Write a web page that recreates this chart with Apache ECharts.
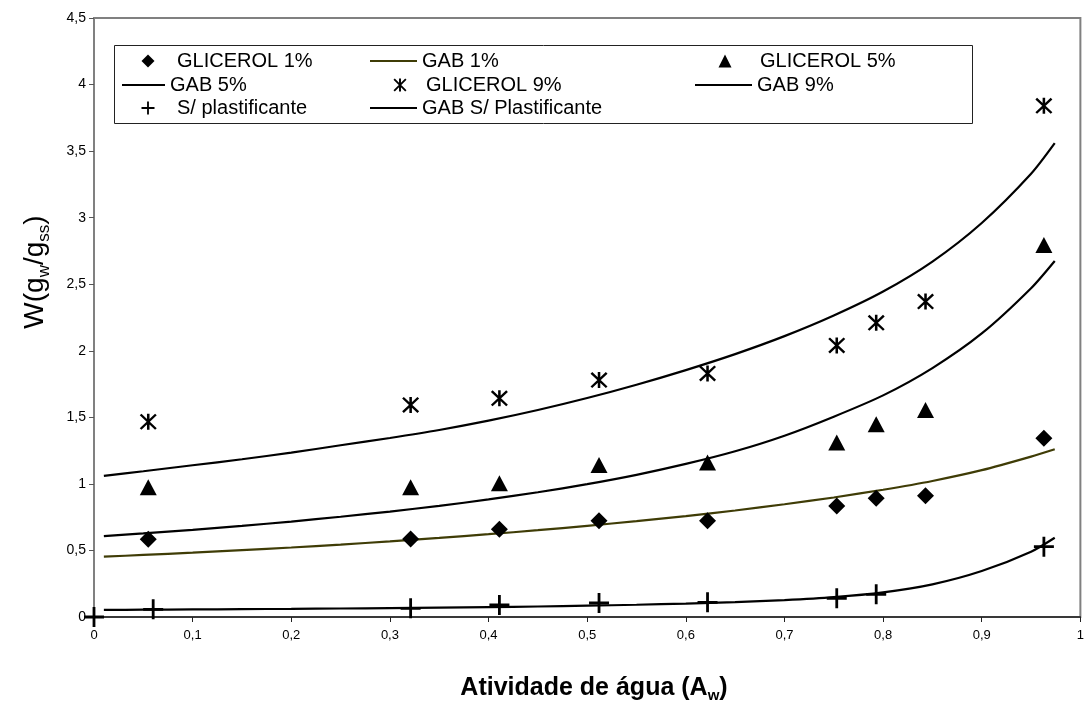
<!DOCTYPE html>
<html>
<head>
<meta charset="utf-8">
<title>Isotermas de sorção</title>
<script src="https://cdn.jsdelivr.net/npm/echarts@6/dist/echarts.min.js"></script>
<style>
  html, body { margin: 0; padding: 0; background: #fff; }
  #chart { width: 1087px; height: 704px; }
</style>
</head>
<body>
<div id="chart"></div>
<script>
// Water activity of the experimental points (glycerol films)
const awGlicerol = [0.055, 0.321, 0.411, 0.512, 0.622, 0.753, 0.793, 0.843, 0.963];
// Moisture content W (g water / g dry solids)
const glicerol1 = [0.584, 0.586, 0.659, 0.724, 0.724, 0.834, 0.892, 0.911, 1.343];
const glicerol5 = [0.974, 0.975, 1.004, 1.142, 1.160, 1.310, 1.448, 1.555, 2.795];
const glicerol9 = [1.467, 1.593, 1.643, 1.780, 1.830, 2.040, 2.210, 2.370, 3.840];

// Film without plasticizer
const awSemPlast = [0, 0.06, 0.321, 0.411, 0.512, 0.622, 0.753, 0.793, 0.963];
const semPlast   = [0, 0.058, 0.065, 0.090, 0.105, 0.110, 0.140, 0.170, 0.528];

// GAB model curves, sampled every 0.05 of water activity
const awGab = [0.01, 0.05, 0.10, 0.15, 0.20, 0.25, 0.30, 0.35, 0.40, 0.45, 0.50,
               0.55, 0.60, 0.65, 0.70, 0.75, 0.80, 0.85, 0.90, 0.95, 0.974];
const gab1 = [0.453, 0.466, 0.483, 0.502, 0.522, 0.544, 0.568, 0.594, 0.622, 0.652, 0.685,
              0.720, 0.758, 0.800, 0.847, 0.898, 0.956, 1.022, 1.103, 1.205, 1.260];
const gab5 = [0.608, 0.628, 0.655, 0.685, 0.717, 0.753, 0.792, 0.835, 0.883, 0.937, 0.998,
              1.068, 1.150, 1.245, 1.362, 1.505, 1.665, 1.870, 2.130, 2.470, 2.675];
const gab9 = [1.060, 1.095, 1.140, 1.185, 1.235, 1.290, 1.345, 1.405, 1.475, 1.555, 1.645,
              1.745, 1.855, 1.975, 2.110, 2.265, 2.445, 2.670, 2.960, 3.330, 3.560];
const gabSemPlast = [0.053, 0.055, 0.057, 0.059, 0.061, 0.064, 0.067, 0.070, 0.074, 0.079, 0.085,
                     0.092, 0.101, 0.112, 0.127, 0.149, 0.185, 0.245, 0.345, 0.490, 0.595];

// Axis tick labels (decimal comma)
const xTickLabels = ['0', '0,1', '0,2', '0,3', '0,4', '0,5', '0,6', '0,7', '0,8', '0,9', '1'];
const yTickLabels = ['0', '0,5', '1', '1,5', '2', '2,5', '3', '3,5', '4', '4,5'];

const FONT = "'Liberation Sans', Arial, sans-serif";
const OLIVE = '#3f3c06';

// Marker shapes
const DIAMOND  = 'path://M8,0L16,8L8,16L0,8Z';
const TRIANGLE = 'path://M8,0L16,16L0,16Z';
const ASTERISK = 'path://M6.8,0H9.2V16H6.8Z M0,1.6L1.6,0L16,14.4L14.4,16Z M14.4,0L16,1.6L1.6,16L0,14.4Z';
const PLUS     = 'path://M8.6,0H11.4V20H8.6Z M0,8.6H20V11.4H0Z';

function pairs(xs, ys) { return xs.map((x, i) => [x, ys[i]]); }

function curve(name, ys, color) {
  return {
    name, type: 'line', data: pairs(awGab, ys),
    smooth: 0.25,
    symbol: 'none', color: color,
    itemStyle: { color: color },
    lineStyle: { color: color, width: 2.2 },
    z: 2
  };
}
function points(name, xs, ys, symbol, size) {
  return {
    name, type: 'scatter', data: pairs(xs, ys),
    symbol: symbol, symbolSize: size,
    itemStyle: { color: '#000', opacity: 1 },
    z: 3
  };
}

// Legend cells: three columns by three rows, each entry placed on its own.
// Marker entries: "left" is the marker's left edge (13 px icon), text follows after the item box.
const legendCells = [
  { name: 'GLICEROL 1%',          icon: DIAMOND,  color: '#000', left: 141.5, row: 61,  w: 48, h: 13 },
  { name: 'GAB 1%',               icon: 'rect',   color: OLIVE,  left: 370,   row: 61,  w: 47, h: 2 },
  { name: 'GLICEROL 5%',          icon: TRIANGLE, color: '#000', left: 718.5, row: 61,  w: 60, h: 13 },
  { name: 'GAB 5%',               icon: 'rect',   color: '#000', left: 122,   row: 85,  w: 43, h: 2 },
  { name: 'GLICEROL 9%',          icon: ASTERISK, color: '#000', left: 393.5, row: 85,  w: 42, h: 13 },
  { name: 'GAB 9%',               icon: 'rect',   color: '#000', left: 695,   row: 85,  w: 57, h: 2 },
  { name: 'S/ plastificante',     icon: PLUS,     color: '#000', left: 141.5, row: 108, w: 48, h: 13 },
  { name: 'GAB S/ Plastificante', icon: 'rect',   color: '#000', left: 370,   row: 108, w: 47, h: 2 }
];

const legends = legendCells.map(c => ({
  data: [{ name: c.name, icon: c.icon, itemStyle: { color: c.color } }],
  left: c.left, top: c.row - 10,
  orient: 'horizontal', padding: 0,
  itemWidth: c.w, itemHeight: c.h,
  selectedMode: false,
  textStyle: { fontFamily: FONT, fontSize: 20, color: '#000' },
  z: 5
}));

const chart = echarts.init(document.getElementById('chart'), null, { renderer: 'canvas' });

chart.setOption({
  animation: false,
  backgroundColor: '#fff',
  grid: {
    left: 94, right: 3, top: 18, bottom: 87,
    show: true, borderColor: '#808080', borderWidth: 2, backgroundColor: 'transparent'
  },
  legend: legends,
  xAxis: {
    type: 'value', min: 0, max: 1, interval: 0.1,
    axisLine: { show: true, onZero: false, lineStyle: { color: '#222', width: 1.5 } },
    axisTick: { show: true, length: 5, lineStyle: { color: '#222', width: 1 } },
    axisLabel: {
      color: '#000', fontSize: 13, fontFamily: FONT, margin: 12,
      formatter: v => xTickLabels[Math.round(v * 10)]
    },
    splitLine: { show: false },
    z: 3
  },
  yAxis: {
    type: 'value', min: 0, max: 4.5, interval: 0.5,
    axisLine: { show: true, lineStyle: { color: '#808080', width: 2 } },
    axisTick: { show: true, length: 5, lineStyle: { color: '#555', width: 1 } },
    axisLabel: {
      color: '#000', fontSize: 14, fontFamily: FONT, margin: 8,
      formatter: v => yTickLabels[Math.round(v / 0.5)]
    },
    splitLine: { show: false }
  },
  graphic: [
    {
      type: 'rect', z: 1,
      shape: { x: 114.5, y: 45.5, width: 858, height: 78 },
      style: { fill: '#fff', stroke: '#222', lineWidth: 1 }
    },
    {
      type: 'text', z: 5, x: 35, y: 272, rotation: Math.PI / 2,
      style: {
        text: 'W(g{s|w}/g{s|ss})',
        fontFamily: FONT, fontSize: 28, lineHeight: 36, fill: '#000',
        align: 'center', verticalAlign: 'middle',
        rich: { s: { fontFamily: FONT, fontSize: 17, lineHeight: 17, verticalAlign: 'bottom', fill: '#000' } }
      }
    },
    {
      type: 'text', z: 5, x: 594, y: 688,
      style: {
        text: 'Atividade de água (A{s|w})',
        fontFamily: FONT, fontSize: 25, fontWeight: 'bold', lineHeight: 30, fill: '#000',
        align: 'center', verticalAlign: 'middle',
        rich: { s: { fontFamily: FONT, fontSize: 15, fontWeight: 'bold', lineHeight: 15, verticalAlign: 'bottom', fill: '#000' } }
      }
    }
  ],
  series: [
    curve('GAB 1%', gab1, OLIVE),
    curve('GAB 5%', gab5, '#000'),
    curve('GAB 9%', gab9, '#000'),
    curve('GAB S/ Plastificante', gabSemPlast, '#000'),
    points('GLICEROL 1%', awGlicerol, glicerol1, DIAMOND, 17),
    points('GLICEROL 5%', awGlicerol, glicerol5, TRIANGLE, [17, 16]),
    points('GLICEROL 9%', awGlicerol, glicerol9, ASTERISK, [17, 16]),
    points('S/ plastificante', awSemPlast, semPlast, PLUS, 20)
  ]
});
</script>
</body>
</html>
